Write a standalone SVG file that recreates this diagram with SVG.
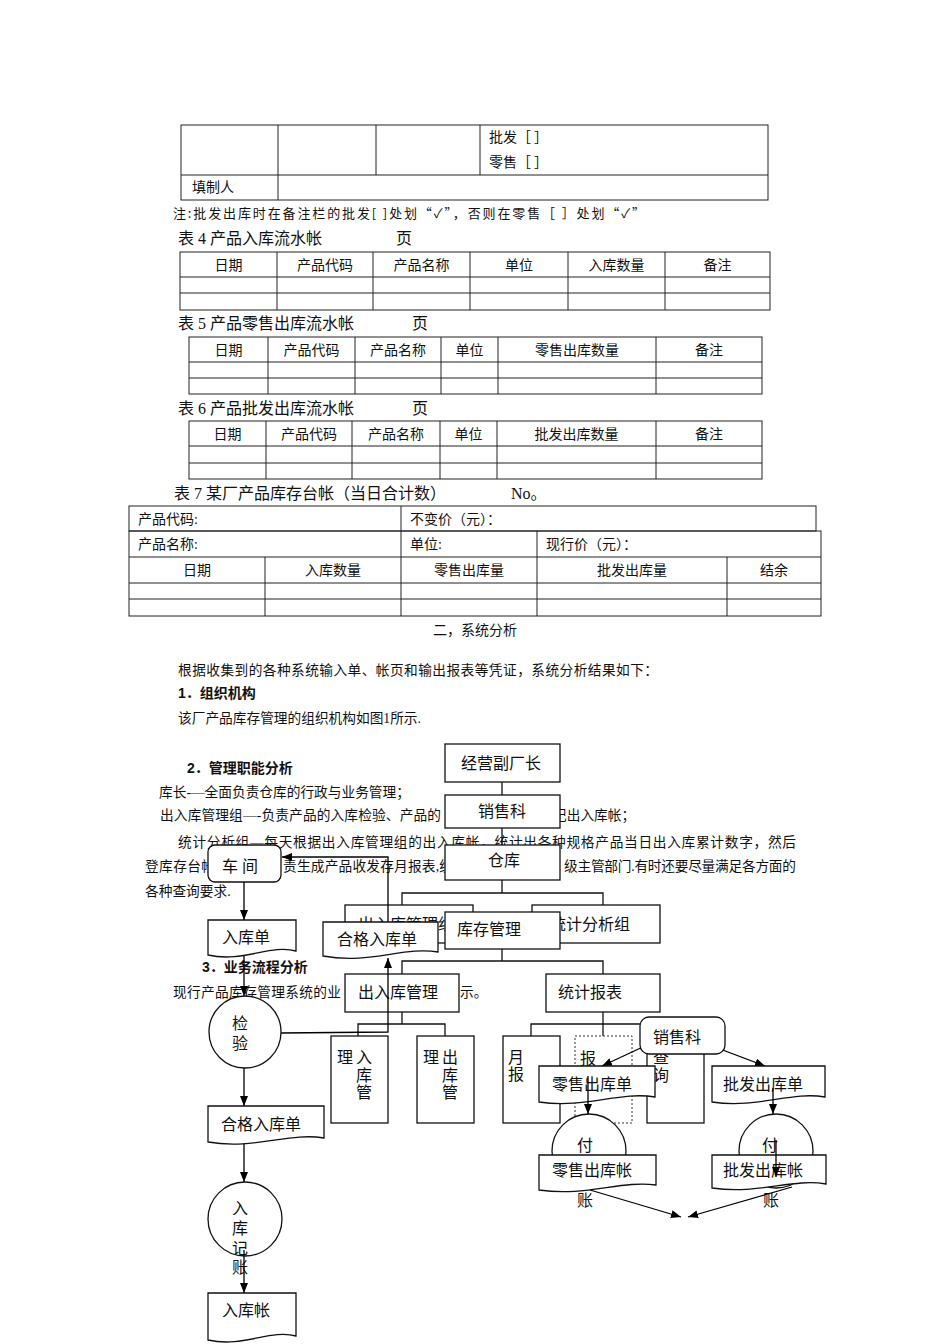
<svg xmlns="http://www.w3.org/2000/svg" width="950" height="1344" viewBox="0 0 950 1344">
<defs>
<style>
text{font-family:"Liberation Serif","Noto Sans CJK SC",serif;fill:#111}
.tb{font-size:14px}
.tc{font-size:14px;text-anchor:middle}
.ti{font-size:16px}
.p{font-size:13.7px}
.h{font-family:"Liberation Sans","Noto Sans CJK SC",sans-serif;font-weight:bold;font-size:14px}
.lb{font-size:16px}
.cj{font-family:"Noto Sans CJK SC",sans-serif}
.grid{stroke:#222;stroke-width:1;fill:none}
.ob{fill:#fff;stroke:#111;stroke-width:1.3}
.ol{stroke:#111;stroke-width:1.3;fill:none}
.fb{fill:#fff;stroke:#111;stroke-width:1.3}
.ar{stroke:#000;stroke-width:1.3;fill:none;marker-end:url(#ah)}
</style>
<marker id="ah" viewBox="0 0 10 8" refX="10" refY="4" markerWidth="10" markerHeight="8" orient="auto" markerUnits="userSpaceOnUse"><path d="M0,0 L10,4 L0,8 z" fill="#000"/></marker>
</defs>
<rect width="950" height="1344" fill="#fff"/>

<!-- Top partial table -->
<g id="table-top">
<rect class="grid" x="181" y="125" width="587" height="75"/>
<line class="grid" x1="181" y1="175" x2="768" y2="175"/>
<line class="grid" x1="278" y1="125" x2="278" y2="200"/>
<line class="grid" x1="376" y1="125" x2="376" y2="175"/>
<line class="grid" x1="480" y1="125" x2="480" y2="175"/>
<text class="tb cj" x="489" y="142" textLength="59" lengthAdjust="spacing">批发［ ］</text>
<text class="tb cj" x="489" y="167" textLength="59" lengthAdjust="spacing">零售［ ］</text>
<text class="tb" x="192" y="192">填制人</text>
</g>
<text class="cj" x="173" y="218" font-size="13" textLength="472" lengthAdjust="spacing">注:批发出库时在备注栏的批发[ ]处划“✓”，否则在零售［ ］处划“✓”</text>

<!-- Table 4 -->
<g id="table4">
<text class="ti" x="178" y="244">表 4 产品入库流水帐</text>
<text class="ti" x="396" y="244">页</text>
<rect class="grid" x="180" y="252" width="590" height="58"/>
<line class="grid" x1="180" y1="277" x2="770" y2="277"/>
<line class="grid" x1="180" y1="293" x2="770" y2="293"/>
<line class="grid" x1="277" y1="252" x2="277" y2="310"/>
<line class="grid" x1="373" y1="252" x2="373" y2="310"/>
<line class="grid" x1="470" y1="252" x2="470" y2="310"/>
<line class="grid" x1="568" y1="252" x2="568" y2="310"/>
<line class="grid" x1="665" y1="252" x2="665" y2="310"/>
<text class="tc" x="228.5" y="270">日期</text>
<text class="tc" x="325" y="270">产品代码</text>
<text class="tc" x="421.5" y="270">产品名称</text>
<text class="tc" x="519" y="270">单位</text>
<text class="tc" x="616.5" y="270">入库数量</text>
<text class="tc" x="717.5" y="270">备注</text>
</g>

<!-- Table 5 -->
<g id="table5">
<text class="ti" x="178" y="329">表 5 产品零售出库流水帐</text>
<text class="ti" x="412" y="329">页</text>
<rect class="grid" x="189" y="337" width="573" height="57"/>
<line class="grid" x1="189" y1="362" x2="762" y2="362"/>
<line class="grid" x1="189" y1="378" x2="762" y2="378"/>
<line class="grid" x1="268" y1="337" x2="268" y2="394"/>
<line class="grid" x1="355" y1="337" x2="355" y2="394"/>
<line class="grid" x1="441" y1="337" x2="441" y2="394"/>
<line class="grid" x1="498" y1="337" x2="498" y2="394"/>
<line class="grid" x1="656" y1="337" x2="656" y2="394"/>
<text class="tc" x="228.5" y="355">日期</text>
<text class="tc" x="311.5" y="355">产品代码</text>
<text class="tc" x="398" y="355">产品名称</text>
<text class="tc" x="469.5" y="355">单位</text>
<text class="tc" x="577" y="355">零售出库数量</text>
<text class="tc" x="709" y="355">备注</text>
</g>

<!-- Table 6 -->
<g id="table6">
<text class="ti" x="178" y="414">表 6 产品批发出库流水帐</text>
<text class="ti" x="412" y="414">页</text>
<rect class="grid" x="189" y="421" width="573" height="58"/>
<line class="grid" x1="189" y1="446" x2="762" y2="446"/>
<line class="grid" x1="189" y1="463" x2="762" y2="463"/>
<line class="grid" x1="266" y1="421" x2="266" y2="479"/>
<line class="grid" x1="352" y1="421" x2="352" y2="479"/>
<line class="grid" x1="440" y1="421" x2="440" y2="479"/>
<line class="grid" x1="497" y1="421" x2="497" y2="479"/>
<line class="grid" x1="656" y1="421" x2="656" y2="479"/>
<text class="tc" x="227.5" y="439">日期</text>
<text class="tc" x="309" y="439">产品代码</text>
<text class="tc" x="396" y="439">产品名称</text>
<text class="tc" x="468.5" y="439">单位</text>
<text class="tc" x="576.5" y="439">批发出库数量</text>
<text class="tc" x="709" y="439">备注</text>
</g>

<!-- Table 7 -->
<g id="table7">
<text class="ti" x="174" y="499">表 7 某厂产品库存台帐（当日合计数）</text>
<text class="ti" x="511" y="499">No。</text>
<rect class="grid" x="129" y="506" width="687" height="25"/>
<line class="grid" x1="401" y1="506" x2="401" y2="531"/>
<rect class="grid" x="129" y="531" width="692" height="85"/>
<line class="grid" x1="129" y1="557" x2="821" y2="557"/>
<line class="grid" x1="129" y1="583" x2="821" y2="583"/>
<line class="grid" x1="129" y1="599" x2="821" y2="599"/>
<line class="grid" x1="401" y1="531" x2="401" y2="616"/>
<line class="grid" x1="537" y1="531" x2="537" y2="616"/>
<line class="grid" x1="265" y1="557" x2="265" y2="616"/>
<line class="grid" x1="727" y1="557" x2="727" y2="616"/>
<text class="tb" x="138" y="524">产品代码:</text>
<text class="tb" x="410" y="524">不变价（元）：</text>
<text class="tb" x="138" y="549">产品名称:</text>
<text class="tb" x="410" y="549">单位:</text>
<text class="tb" x="546" y="549">现行价（元）：</text>
<text class="tc" x="197" y="575">日期</text>
<text class="tc" x="333" y="575">入库数量</text>
<text class="tc" x="469" y="575">零售出库量</text>
<text class="tc" x="632" y="575">批发出库量</text>
<text class="tc" x="774" y="575">结余</text>
</g>

<!-- Body text -->
<g id="body-text">
<text class="tc" x="475" y="635">二，系统分析</text>
<text class="p" x="178" y="675" textLength="480" lengthAdjust="spacing">根据收集到的各种系统输入单、帐页和输出报表等凭证，系统分析结果如下：</text>
<text class="h" x="178" y="698">1．组织机构</text>
<text class="p" x="178" y="723">该厂产品库存管理的组织机构如图1所示.</text>
<text class="h" x="187" y="773">2．管理职能分析</text>
<text class="p" x="159" y="797">库长-—全面负责仓库的行政与业务管理；</text>
<text class="p" x="160" y="820" textLength="281" lengthAdjust="spacing">出入库管理组—-负责产品的入库检验、产品的</text>
<text class="p" x="553" y="820">记出入库帐；</text>
<text class="p" x="178" y="847" textLength="618" lengthAdjust="spacing">统计分析组—每天根据出入库管理组的出入库帐，统计出各种规格产品当日出入库累计数字，然后</text>
<text class="p" x="145" y="871" textLength="70" lengthAdjust="spacing">登库存台帐</text>
<text class="p" x="283" y="871" textLength="170" lengthAdjust="spacing">责生成产品收发存月报表,统</text>
<text class="p" x="564" y="871" textLength="232" lengthAdjust="spacing">级主管部门.有时还要尽量满足各方面的</text>
<text class="p" x="145" y="896">各种查询要求.</text>
<text class="h" x="202" y="972">3．业务流程分析</text>
<text class="p" x="173" y="997" textLength="168" lengthAdjust="spacing">现行产品库存管理系统的业</text>
<text class="p" x="460" y="997">示。</text>
</g>

<!-- Organisation chart connectors -->
<g id="org-connectors">
<line class="ol" x1="502" y1="782" x2="502" y2="795"/>
<line class="ol" x1="502" y1="828" x2="502" y2="845"/>
<polyline class="ol" points="402,905 402,893 603,893 603,905"/>
<line class="ol" x1="502" y1="880" x2="502" y2="893"/>
<polyline class="ol" points="402,974 402,961 603,961 603,974"/>
<line class="ol" x1="502" y1="949" x2="502" y2="961"/>
<polyline class="ol" points="358,1036 358,1024 445,1024 445,1036"/>
<line class="ol" x1="402" y1="1012" x2="402" y2="1024"/>
<polyline class="ol" points="531,1036 531,1024 675,1024 675,1036"/>
<line class="ol" x1="603" y1="1012" x2="603" y2="1036"/>
</g>

<g id="org-jyfcz"><rect class="ob" x="445" y="744" width="115" height="38"/><text class="lb" x="461" y="769" font-size="16.5">经营副厂长</text></g>
<g id="org-xsk"><rect class="ob" x="445" y="795" width="115" height="33"/><text class="lb" x="478" y="817">销售科</text></g>
<g id="org-ck"><rect class="ob" x="445" y="845" width="115" height="35"/><text class="lb" x="488" y="866">仓库</text></g>
<g id="org-crkglz"><rect class="ob" x="345" y="905" width="128" height="38"/><text class="lb" x="358" y="930">出入库管理组</text></g>
<g id="org-tjfxz"><rect class="ob" x="532" y="905" width="128" height="38"/><text class="lb" x="550" y="930">统计分析组</text></g>
<g id="org-kcgl"><rect class="ob" x="445" y="912" width="115" height="37"/><text class="lb" x="457" y="935">库存管理</text></g>
<g id="org-crkgl"><rect class="ob" x="345" y="974" width="114" height="38"/><text class="lb" x="358" y="998">出入库管理</text></g>
<g id="org-tjbb"><rect class="ob" x="546" y="974" width="114" height="38"/><text class="lb" x="558" y="998">统计报表</text></g>
<g id="org-rkgl"><rect class="ob" x="331" y="1036" width="57" height="87"/>
<text class="lb" x="337" y="1063">理</text><text class="lb" x="356" y="1063">入</text><text class="lb" x="356" y="1081">库</text><text class="lb" x="356" y="1098">管</text></g>
<g id="org-ckgl"><rect class="ob" x="417" y="1036" width="57" height="87"/>
<text class="lb" x="423" y="1063">理</text><text class="lb" x="442" y="1063">出</text><text class="lb" x="442" y="1081">库</text><text class="lb" x="442" y="1098">管</text></g>
<g id="org-yb"><rect class="ob" x="503" y="1036" width="57" height="87"/>
<text class="lb" x="508" y="1063">月</text><text class="lb" x="508" y="1080">报</text></g>
<g id="org-bao"><rect x="575" y="1036" width="57" height="87" fill="#fff" stroke="#333" stroke-width="1" stroke-dasharray="2,2"/>
<text class="lb" x="580" y="1064">报</text></g>
<g id="org-cx"><rect class="ob" x="647" y="1036" width="57" height="87"/>
<text class="lb" x="653" y="1063">查</text><text class="lb" x="653" y="1081">询</text></g>

<!-- Flowchart connectors -->
<g id="flow-connectors">
<line class="ar" x1="244" y1="882" x2="244" y2="920"/>
<line class="ar" x1="244" y1="955" x2="244" y2="996"/>
<line class="ar" x1="244" y1="1068" x2="244" y2="1106"/>
<line class="ar" x1="244" y1="1142" x2="244" y2="1182"/>
<polyline class="ar" points="281,1033 388,1032 388,958"/>
<polyline class="ar" points="388,922 388,857 282,857"/>
<line class="ar" x1="675" y1="1032" x2="602" y2="1066"/>
<line class="ar" x1="675" y1="1032" x2="765" y2="1066"/>
</g>

<!-- Flowchart nodes -->
<g id="flow-cj"><rect class="fb" x="208" y="845" width="73" height="37" rx="7"/><text class="lb" x="222" y="872">车 间</text></g>
<g id="flow-rkd"><path class="fb" d="M208,920 H296 V951 C270,944 243,963 208,955 Z"/><text class="lb" x="222" y="943">入库单</text></g>
<g id="flow-hgrkd1"><path class="fb" d="M323,922 H438 V952 C404,946 369,965 323,956 Z"/><text class="lb" x="337" y="945">合格入库单</text></g>
<g id="flow-jy"><circle class="fb" cx="245" cy="1032" r="36"/><text class="lb" x="232" y="1029">检</text><text class="lb" x="232" y="1049">验</text></g>
<g id="flow-hgrkd2"><path class="fb" d="M208,1106 H324 V1138 C289,1132 254,1150 208,1142 Z"/><text class="lb" x="221" y="1130">合格入库单</text></g>
<g id="flow-rkjz"><circle class="fb" cx="245" cy="1219" r="37"/><text class="lb" x="232" y="1214">入</text><text class="lb" x="232" y="1234">库</text><text class="lb" x="232" y="1254">记</text><text class="lb" x="232" y="1273">账</text></g>
<g id="flow-rkz"><path class="fb" d="M208,1293 H296 V1336 C270,1329 243,1348 208,1340 Z"/><text class="lb" x="222" y="1316">入库帐</text></g>

<g id="flow-fz1"><circle class="fb" cx="589" cy="1151" r="37"/><text class="lb" x="577" y="1151">付</text><text class="lb" x="577" y="1206">账</text></g>
<g id="flow-fz2"><circle class="fb" cx="776" cy="1151" r="37"/><text class="lb" x="762" y="1151">付</text><text class="lb" x="763" y="1206">账</text></g>
<g id="flow-lsckd"><path class="fb" d="M539,1066 H655 V1097 C620,1091 585,1109 539,1102 Z"/><text class="lb" x="552" y="1090">零售出库单</text></g>
<g id="flow-pfckd"><path class="fb" d="M712,1066 H825 V1097 C791,1091 757,1109 712,1102 Z"/><text class="lb" x="723" y="1090">批发出库单</text></g>
<g id="flow-lsckz"><path class="fb" d="M539,1155 H656 V1185 C621,1180 586,1197 539,1190 Z"/><text class="lb" x="552" y="1176">零售出库帐</text></g>
<g id="flow-pfckz"><path class="fb" d="M712,1155 H826 V1184 C792,1178 758,1195 712,1188 Z"/><text class="lb" x="723" y="1176">批发出库帐</text></g>
<g id="flow-xsk"><rect class="fb" x="640" y="1017" width="85" height="37" rx="9"/><text class="lb" x="653" y="1043">销售科</text></g>

<g id="flow-connectors-2">
<line class="ar" x1="588" y1="1076" x2="588" y2="1114"/>
<line class="ar" x1="773" y1="1088" x2="773" y2="1114"/>
<line class="ar" x1="776" y1="1140" x2="776" y2="1177"/>
<line class="ar" x1="244" y1="1250" x2="244" y2="1293"/>
<line class="ar" x1="590" y1="1190" x2="681" y2="1217"/>
<line class="ar" x1="792" y1="1187" x2="688" y2="1217"/>
</g>
</svg>
